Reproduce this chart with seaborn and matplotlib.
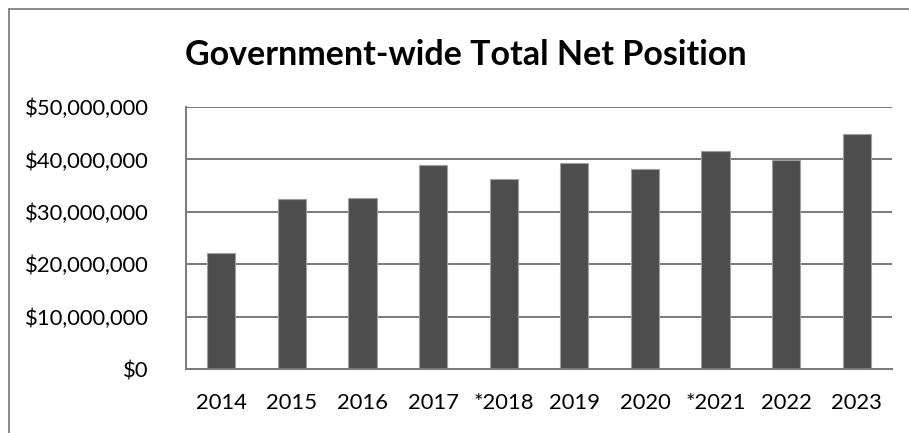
import matplotlib
matplotlib.use("Agg")
import matplotlib.pyplot as plt
from matplotlib.lines import Line2D
from matplotlib.ticker import FuncFormatter, MultipleLocator
import pandas as pd
import seaborn as sns

# Fiscal years (asterisk marks restated years)
years = ["2014", "2015", "2016", "2017", "*2018", "2019", "2020", "*2021", "2022", "2023"]
# Total net position in dollars
net_position = [22100000, 32400000, 32700000, 39000000, 36200000,
                39350000, 38100000, 41600000, 39900000, 44900000]

title = "Government-wide Total Net Position"

sns.set_theme(style="white")
plt.rcParams["font.family"] = ["Lato", "DejaVu Sans"]

df = pd.DataFrame({"year": years, "value": net_position})

fig = plt.figure(figsize=(9.09, 4.33), dpi=100)
ax = fig.add_axes([0.2046, 0.1478, 0.9813 - 0.2046, 0.7529 - 0.1478])

grid_color = "#7a7a7a"
sns.barplot(data=df, x="year", y="value", color="#4d4d4d", width=0.4,
            edgecolor="#a0a0a0", linewidth=0.8, saturation=1, ax=ax)

ax.set_xlim(-0.5, len(years) - 0.5)
ax.set_ylim(0, 50000000)
ax.yaxis.set_major_locator(MultipleLocator(10000000))
ax.yaxis.set_major_formatter(FuncFormatter(lambda v, _: f"${v:,.0f}"))
ax.yaxis.grid(True, color=grid_color, linewidth=1.4)
ax.set_axisbelow(True)
ax.set_xlabel("")
ax.set_ylabel("")

for side in ("top", "right"):
    ax.spines[side].set_visible(False)
for side in ("left", "bottom"):
    ax.spines[side].set_color(grid_color)
    ax.spines[side].set_linewidth(1.4)

ax.tick_params(axis="both", length=0, labelsize=15.8, colors="black")
ax.tick_params(axis="y", pad=27)
ax.tick_params(axis="x", pad=17)

fig.text(0.512, 1 - 55 / 433, title, ha="center", va="center",
         fontsize=24.5, fontweight="bold", color="black")

# Outer frame: left and top edges
fig.add_artist(Line2D([9 / 909, 9 / 909], [0, 1 - 8.5 / 433],
                      transform=fig.transFigure, color="#767676", linewidth=1.2))
fig.add_artist(Line2D([9 / 909, 1], [1 - 8.5 / 433, 1 - 8.5 / 433],
                      transform=fig.transFigure, color="#767676", linewidth=1.2))

fig.savefig("out.png", dpi=100)
